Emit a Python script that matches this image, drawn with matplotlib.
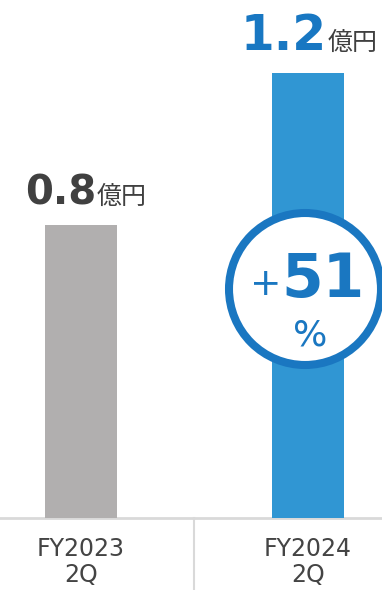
import matplotlib.pyplot as plt
from matplotlib.patches import Circle
from matplotlib.lines import Line2D
from matplotlib.transforms import IdentityTransform

plt.rcParams['font.family'] = ['DejaVu Sans', 'Noto Sans CJK JP']

periods = ['FY2023\n2Q', 'FY2024\n2Q']
values = [0.79, 1.20]
value_labels = ['0.8', '1.2']
unit = '億円'
growth = '51'

bar_colors = ['#b1afaf', '#3096d3']
label_colors = ['#404040', '#1877c2']
ring_color = '#1a77c1'
grid_color = '#d9d9d9'

fig = plt.figure(figsize=(3.82, 5.90), dpi=100)
ax = fig.add_axes([0, 72 / 590, 1, 518 / 590])

x = [0, 1]
ax.bar(x, values, width=0.317, color=bar_colors, zorder=2)
ax.set_xlim(-0.357, 1.326)
ax.set_ylim(0, 1.397)
for s in ax.spines.values():
    s.set_visible(False)
ax.set_xticks([])
ax.set_yticks([])
ax.axhline(0, color=grid_color, lw=2, zorder=1, clip_on=False)

# value labels above the bars
sizes = [29, 35]
offs = [(15, 21), (19, 23)]
for xi, v, lab, c, fs, (dx, dy) in zip(x, values, value_labels, label_colors, sizes, offs):
    ax.annotate(lab, (xi, v), xytext=(dx, dy), textcoords='offset pixels',
                ha='right', va='baseline', fontsize=fs, fontweight='bold', color=c)
    ax.annotate(unit, (xi, v), xytext=(dx + 1, dy), textcoords='offset pixels',
                ha='left', va='baseline', fontsize=18, color='#404040',
                family=['Noto Sans CJK JP', 'DejaVu Sans'])

# category labels under the axis
for xi, p in zip(x, periods):
    px = ax.transData.transform((xi, 0))[0]
    fig.text(px / 382, 1 - 537 / 590, p, ha='center', va='top', fontsize=17,
             color='#444444', linespacing=1.1)

# separator between categories
fig.add_artist(Line2D([194 / 382, 194 / 382], [0, 72 / 590], color=grid_color, lw=1.5))

# growth badge
pix = IdentityTransform()
cx, cy = 305, 590 - 289
fig.add_artist(Circle((cx, cy), 76, transform=pix, facecolor='white',
                      edgecolor=ring_color, lw=5.8, zorder=5))
fig.text(266, 590 - 285, '+', transform=pix, ha='center', va='center',
         fontsize=27, color=ring_color, zorder=6)
fig.text(323, 590 - 297, growth, transform=pix, ha='center', va='baseline',
         fontsize=43, fontweight='bold', color=ring_color, zorder=6)
fig.text(310, 590 - 335, '%', transform=pix, ha='center', va='center',
         fontsize=26, color=ring_color, zorder=6)

fig.savefig('out.png', dpi=100)
